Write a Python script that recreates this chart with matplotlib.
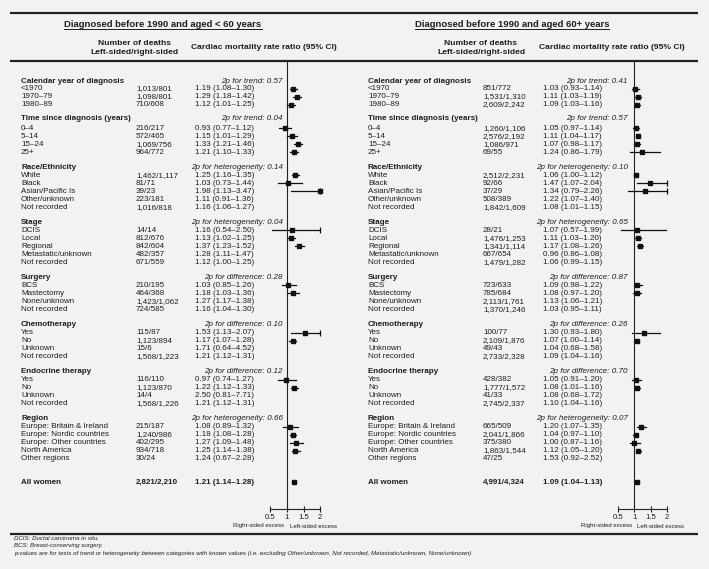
import matplotlib
matplotlib.use("Agg")
import matplotlib.pyplot as plt

plt.rcParams['font.family'] = ['Liberation Sans', 'DejaVu Sans']

# ---- data ----
groups = ["Calendar year of diagnosis", "Time since diagnosis (years)", "Race/Ethnicity",
          "Stage", "Surgery", "Chemotherapy", "Endocrine therapy", "Region"]
items = [
    ["<1970", "1970–79", "1980–89"],
    ["0–4", "5–14", "15–24", "25+"],
    ["White", "Black", "Asian/Pacific Is", "Other/unknown", "Not recorded"],
    ["DCIS", "Local", "Regional", "Metastatic/unknown", "Not recorded"],
    ["BCS", "Mastectomy", "None/unknown", "Not recorded"],
    ["Yes", "No", "Unknown", "Not recorded"],
    ["Yes", "No", "Unknown", "Not recorded"],
    ["Europe: Britain & Ireland", "Europe: Nordic countries", "Europe: Other countries",
     "North America", "Other regions"],
]
# categories with unknown values are not drawn
not_drawn = ["Other/unknown", "Not recorded", "Metastatic/unknown", "None/unknown",
             "Unknown", "Other regions"]

young_p = ["2p for trend: 0.57", "2p for trend: 0.04", "2p for heterogeneity: 0.14",
           "2p for heterogeneity: 0.04", "2p for difference: 0.28", "2p for difference: 0.10",
           "2p for difference: 0.12", "2p for heterogeneity: 0.66"]
young_deaths = [
    ["1,013/801", "1,098/801", "710/608"],
    ["216/217", "572/465", "1,069/756", "964/772"],
    ["1,462/1,117", "81/71", "39/23", "223/181", "1,016/818"],
    ["14/14", "812/676", "842/604", "482/357", "671/559"],
    ["210/195", "464/368", "1,423/1,062", "724/585"],
    ["115/87", "1,123/894", "15/6", "1,568/1,223"],
    ["116/110", "1,123/870", "14/4", "1,568/1,226"],
    ["215/187", "1,240/986", "402/295", "934/718", "30/24"],
]
young_rr = [[1.19, 1.29, 1.12], [0.93, 1.15, 1.33, 1.21], [1.25, 1.03, 1.98, 1.11, 1.16],
            [1.16, 1.13, 1.37, 1.28, 1.12], [1.03, 1.18, 1.27, 1.16], [1.53, 1.17, 1.71, 1.21],
            [0.97, 1.22, 2.50, 1.21], [1.08, 1.18, 1.27, 1.25, 1.24]]
young_lo = [[1.08, 1.18, 1.01], [0.77, 1.01, 1.21, 1.10], [1.16, 0.73, 1.13, 0.91, 1.06],
            [0.54, 1.02, 1.23, 1.11, 1.00], [0.85, 1.03, 1.17, 1.04], [1.13, 1.07, 0.64, 1.12],
            [0.74, 1.12, 0.81, 1.12], [0.89, 1.08, 1.09, 1.14, 0.67]]
young_hi = [[1.30, 1.42, 1.25], [1.12, 1.29, 1.46, 1.33], [1.35, 1.44, 3.47, 1.36, 1.27],
            [2.50, 1.25, 1.52, 1.47, 1.25], [1.26, 1.36, 1.38, 1.30], [2.07, 1.28, 4.52, 1.31],
            [1.27, 1.33, 7.71, 1.31], [1.32, 1.28, 1.48, 1.38, 2.28]]
young_all = ["2,821/2,210", 1.21, 1.14, 1.28]

old_p = ["2p for trend: 0.41", "2p for trend: 0.57", "2p for heterogeneity: 0.10",
         "2p for heterogeneity: 0.65", "2p for difference: 0.87", "2p for difference: 0.26",
         "2p for difference: 0.70", "2p for heterogeneity: 0.07"]
old_deaths = [
    ["851/772", "1,531/1,310", "2,609/2,242"],
    ["1,260/1,106", "2,576/2,192", "1,086/971", "69/55"],
    ["2,512/2,231", "92/66", "37/29", "508/389", "1,842/1,609"],
    ["28/21", "1,476/1,253", "1,341/1,114", "667/654", "1,479/1,282"],
    ["723/633", "785/684", "2,113/1,761", "1,370/1,246"],
    ["100/77", "2,109/1,876", "49/43", "2,733/2,328"],
    ["428/382", "1,777/1,572", "41/33", "2,745/2,337"],
    ["665/509", "2,041/1,866", "375/380", "1,863/1,544", "47/25"],
]
old_rr = [[1.03, 1.11, 1.09], [1.05, 1.11, 1.07, 1.24], [1.06, 1.47, 1.34, 1.22, 1.08],
          [1.07, 1.11, 1.17, 0.96, 1.06], [1.09, 1.08, 1.13, 1.03], [1.30, 1.07, 1.04, 1.09],
          [1.05, 1.08, 1.08, 1.10], [1.20, 1.04, 1.00, 1.12, 1.53]]
old_lo = [[0.93, 1.03, 1.03], [0.97, 1.04, 0.98, 0.86], [1.00, 1.07, 0.79, 1.07, 1.01],
          [0.57, 1.03, 1.08, 0.86, 0.99], [0.98, 0.97, 1.06, 0.95], [0.93, 1.00, 0.68, 1.04],
          [0.91, 1.01, 0.68, 1.04], [1.07, 0.97, 0.87, 1.05, 0.92]]
old_hi = [[1.14, 1.19, 1.16], [1.14, 1.17, 1.17, 1.79], [1.12, 2.04, 2.26, 1.40, 1.15],
          [1.99, 1.20, 1.26, 1.08, 1.15], [1.22, 1.20, 1.21, 1.11], [1.80, 1.14, 1.58, 1.16],
          [1.20, 1.16, 1.72, 1.16], [1.35, 1.10, 1.16, 1.20, 2.52]]
old_all = ["4,991/4,324", 1.09, 1.04, 1.13]

ticks = [0.5, 1, 1.5, 2]
tick_labels = ["0.5", "1", "1.5", "2"]

# ---- layout (pixels) ----
W, H = 709, 569
TXT = "#1e1e1e"
BG = "#f2f2f2"
FS = 5.8
pitch = 7.95
gap = 15.35

fig = plt.figure(figsize=(W / 100, H / 100), dpi=100, facecolor=BG)
ax0 = fig.add_axes([0, 0, 1, 1])
ax0.set_xlim(0, W)
ax0.set_ylim(H, 0)
ax0.axis('off')

# row positions
head_y = []
item_y = []
y = 81
for i, g in enumerate(items):
    head_y.append(y)
    ys = []
    for _ in g:
        y += pitch
        ys.append(y)
    item_y.append(ys)
    y += gap
head_y[1] -= 1.5
all_y = item_y[-1][-1] + 23.3

for yy in [13, 61, 534]:
    ax0.plot([10, 698], [yy, yy], color="#222222", lw=1.6, solid_capstyle='butt')


def panel(title, cx_title, x_lab, x_dth, x_rr, x_p, x05, x2, pvals, deaths, rr, lo, hi, allw):
    t = ax0.text(cx_title, 24, title, fontsize=6.8, fontweight='bold', ha='center',
                 va='center', color=TXT)
    cx_d = x_dth - 2
    ax0.text(cx_d, 43, "Number of deaths", fontsize=6.1, fontweight='bold', ha='center',
             va='center', color=TXT)
    ax0.text(cx_d, 52, "Left-sided/right-sided", fontsize=6.1, fontweight='bold',
             ha='center', va='center', color=TXT)
    ax0.text(x_rr + 69, 47, "Cardiac mortality rate ratio (95% CI)", fontsize=6.1,
             fontweight='bold', ha='center', va='center', color=TXT)

    ax = fig.add_axes([x05 / W, (H - 509) / H, (x2 - x05) / W, (509 - 61) / H])
    ax.set_xlim(0.5, 2)
    ax.set_ylim(509, 61)
    ax.patch.set_visible(False)
    for s in ['top', 'right', 'left']:
        ax.spines[s].set_visible(False)
    ax.spines['bottom'].set_linewidth(0.8)
    ax.spines['bottom'].set_color("#222222")
    ax.set_xticks(ticks)
    ax.set_xticklabels(tick_labels)
    ax.set_yticks([])
    ax.tick_params(axis='x', direction='inout', length=4, width=0.8, labelsize=5.6,
                   pad=1.5, colors=TXT)
    ax.axvline(1, color="#222222", lw=0.8)

    for gi, g in enumerate(groups):
        ax0.text(x_lab, head_y[gi], g, fontsize=FS, fontweight='bold', va='center', color=TXT)
        ax0.text(x_p, head_y[gi], pvals[gi], fontsize=FS, style='italic', ha='right',
                 va='center', color=TXT)
        for k, lab in enumerate(items[gi]):
            yy = item_y[gi][k]
            ax0.text(x_lab, yy, lab, fontsize=FS, va='center', color=TXT)
            ax0.text(x_dth, yy, deaths[gi][k], fontsize=FS, va='center', color=TXT)
            ax0.text(x_rr, yy, f"{rr[gi][k]:.2f} ({lo[gi][k]:.2f}–{hi[gi][k]:.2f})",
                     fontsize=FS, va='center', color=TXT)
            if lab in not_drawn:
                continue
            h = min(hi[gi][k], 2)
            ax.plot([lo[gi][k], h], [yy, yy], color="#111111", lw=0.9, clip_on=False)
            ax.plot(rr[gi][k], yy, 's', color="#111111", ms=3.2, clip_on=False)
            if hi[gi][k] > 2:
                ax.plot(2, yy, '|', color="#111111", ms=4.5, mew=0.9, clip_on=False)

    ax0.text(x_lab, all_y, "All women", fontsize=FS, fontweight='bold', va='center', color=TXT)
    ax0.text(x_dth, all_y, allw[0], fontsize=FS, fontweight='bold', va='center', color=TXT)
    ax0.text(x_rr, all_y, f"{allw[1]:.2f} ({allw[2]:.2f}–{allw[3]:.2f})", fontsize=FS,
             fontweight='bold', va='center', color=TXT)
    ax.plot([allw[2], allw[3]], [all_y, all_y], color="#111111", lw=0.9)
    ax.plot(allw[1], all_y, 's', color="#111111", ms=3.2)

    x1 = x05 + (x2 - x05) / 3
    ax0.text(x1 - 2.5, 526, "Right-sided excess", fontsize=4.3, ha='right', va='center',
             color=TXT)
    ax0.text(x1 + 3, 526, "Left-sided excess", fontsize=4.3, ha='left', va='center',
             color=TXT)
    return t


t1 = panel("Diagnosed before 1990 and aged < 60 years", 163, 21, 136, 195, 283, 270.3, 320.3,
           young_p, young_deaths, young_rr, young_lo, young_hi, young_all)
t2 = panel("Diagnosed before 1990 and aged 60+ years", 512, 368, 483, 543, 628, 618.3, 666.7,
           old_p, old_deaths, old_rr, old_lo, old_hi, old_all)

notes = ["DCIS: Ductal carcinoma in situ.",
         "BCS: Breast-conserving surgery.",
         "p-values are for tests of trend or heterogeneity between categories with known values "
         "(i.e. excluding Other/unknown, Not recorded, Metastatic/unknown, None/unknown)"]
for i, n in enumerate(notes):
    ax0.text(14, 539 + 7 * i, n, fontsize=4.45, style='italic', va='center', color=TXT)

# underline the panel titles
fig.canvas.draw()
inv = ax0.transData.inverted()
for t in [t1, t2]:
    bb = t.get_window_extent()
    (xa, ya), (xb, yb) = inv.transform([[bb.x0, bb.y0], [bb.x1, bb.y1]])
    ax0.plot([xa, xb], [ya + 0.5, ya + 0.5], color=TXT, lw=0.7)

fig.savefig("out.png", dpi=100, facecolor=BG)
